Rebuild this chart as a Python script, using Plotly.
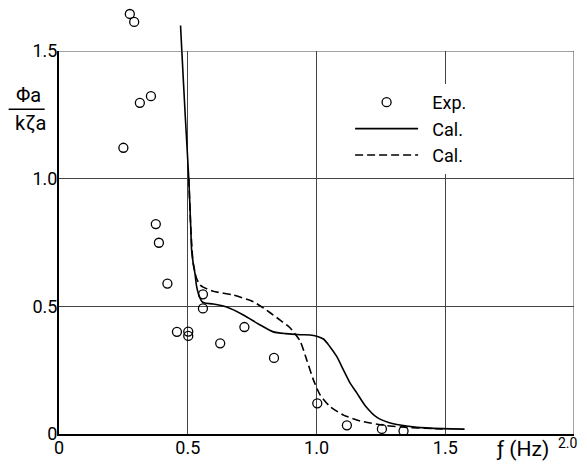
import plotly.graph_objects as go

# Experimental points
exp_f = [0.275, 0.292, 0.314, 0.357, 0.250, 0.376, 0.388, 0.421, 0.458, 0.502,
         0.502, 0.559, 0.559, 0.626, 0.720, 0.835, 1.003, 1.118, 1.254, 1.338]
exp_v = [1.645, 1.614, 1.297, 1.323, 1.121, 0.822, 0.749, 0.589, 0.400, 0.401,
         0.384, 0.547, 0.492, 0.355, 0.419, 0.298, 0.120, 0.034, 0.020, 0.012]

# Calculated (solid)
cal1_f = [0.472, 0.477, 0.490, 0.504, 0.512, 0.515, 0.521, 0.528, 0.534, 0.541,
          0.554, 0.565, 0.599, 0.651, 0.716, 0.781, 0.832, 0.880, 0.936, 0.975,
          1.001, 1.027, 1.050, 1.079, 1.105, 1.130, 1.157, 1.190, 1.235, 1.280,
          1.312, 1.390, 1.490, 1.575]
cal1_v = [1.600, 1.500, 1.250, 1.000, 0.800, 0.721, 0.670, 0.629, 0.580, 0.551,
          0.520, 0.513, 0.509, 0.497, 0.466, 0.427, 0.400, 0.393, 0.389, 0.388,
          0.383, 0.372, 0.345, 0.303, 0.250, 0.200, 0.160, 0.110, 0.065, 0.045,
          0.037, 0.026, 0.021, 0.019]

# Calculated (dashed)
cal2_f = [0.504, 0.512, 0.516, 0.521, 0.534, 0.547, 0.560, 0.599, 0.677, 0.755,
          0.820, 0.860, 0.897, 0.936, 0.962, 0.988, 1.014, 1.053, 1.105, 1.170,
          1.261, 1.351, 1.455, 1.490]
cal2_v = [1.000, 0.800, 0.733, 0.669, 0.610, 0.585, 0.575, 0.559, 0.544, 0.518,
          0.475, 0.445, 0.416, 0.365, 0.290, 0.212, 0.153, 0.107, 0.074, 0.051,
          0.034, 0.026, 0.021, 0.020]

series_names = ["Exp.", "Cal.", "Cal."]

x_ticks = [0, 0.5, 1.0, 1.5, 2.0]
x_ticktext = ["0", "0.5", "1.0", "1.5", ""]
y_ticks = [0, 0.5, 1.0, 1.5]
y_ticktext = ["0", "0.5", "1.0", "1.5"]

X_MAX = 2.0
Y_MAX = 1.5

FONT = "Roboto, DejaVu Sans, sans-serif"

# The page body has an 8px default margin, so the figure is drawn 8px smaller
# and every layout position below is given in window pixels minus that offset.
OFF = 8
W, H = 587 - OFF, 464 - OFF
FRAME_L, FRAME_R, FRAME_T, FRAME_B = 59.3, 573.6, 51, 434   # window pixels
M_L = FRAME_L - OFF
M_R = W - (FRAME_R - OFF)
M_B = H - (FRAME_B - OFF)
M_T = 0
plot_w = W - M_L - M_R
plot_h = H - M_T - M_B
# Framed axes occupy the lower part of the plotting area; the data are drawn on
# twin hidden axes with the same scale that reach higher, so the points and
# curve above 1.5 stay visible as in the original.
D = (FRAME_B - FRAME_T) / plot_h
Y2_MAX = Y_MAX / D


def px_x(p):
    return (p - FRAME_L) / plot_w


def px_y(p):
    return (FRAME_B - p) / plot_h


LEG_PAD = "\u2002"  # small gap between legend symbol and text, as in the original

fig = go.Figure()
common = dict(xaxis="x2", yaxis="y2", cliponaxis=False)
fig.add_trace(go.Scatter(x=exp_f, y=exp_v, mode="markers", name=LEG_PAD + series_names[0],
                         marker=dict(symbol="circle-open", size=9, color="black",
                                     line=dict(width=1.3, color="black")),
                         **common))
fig.add_trace(go.Scatter(x=cal1_f, y=cal1_v, mode="lines", name=LEG_PAD + series_names[1],
                         line=dict(color="black", width=1.6, shape="spline", smoothing=0.6),
                         **common))
fig.add_trace(go.Scatter(x=cal2_f, y=cal2_v, mode="lines", name=LEG_PAD + series_names[2],
                         line=dict(color="black", width=1.6, dash="8px,4px",
                                   shape="spline", smoothing=0.6),
                         **common))

fig.update_layout(
    width=W, height=H,
    margin=dict(l=M_L, r=M_R, t=M_T, b=M_B, pad=0),
    paper_bgcolor="white", plot_bgcolor="rgba(0,0,0,0)",
    font=dict(family=FONT, size=18, color="black"),
    showlegend=True,
    legend=dict(x=px_x(350), y=px_y(84), xanchor="left", yanchor="top",
                bgcolor="white", borderwidth=0, itemwidth=63,
                font=dict(family=FONT, size=18, color="black"),
                tracegroupgap=0),
    xaxis=dict(domain=[0, 1], anchor="y", range=[0, X_MAX],
               tickvals=x_ticks, ticktext=x_ticktext,
               showgrid=True, gridcolor="#444", gridwidth=1,
               showline=True, linecolor="black", linewidth=2,
               zeroline=False, ticks="", automargin=False,
               ticklabelstandoff=-4, tickfont=dict(size=18)),
    yaxis=dict(domain=[0, D], anchor="x", range=[0, Y_MAX],
               tickvals=y_ticks, ticktext=y_ticktext,
               showgrid=True, gridcolor="#444", gridwidth=1,
               showline=True, linecolor="black", linewidth=2,
               zeroline=False, ticks="", automargin=False,
               ticklabelstandoff=-4, tickfont=dict(size=18)),
    xaxis2=dict(domain=[0, 1], anchor="y2", range=[0, X_MAX], visible=False,
                showgrid=False, zeroline=False, automargin=False),
    yaxis2=dict(domain=[0, 1], anchor="x2", range=[0, Y2_MAX], visible=False,
                showgrid=False, zeroline=False, automargin=False),
)

# top and right frame lines (thin, like the grid)
fig.add_shape(type="line", xref="x", yref="y", x0=0, x1=X_MAX, y0=Y_MAX, y1=Y_MAX,
              line=dict(color="#444", width=1))
fig.add_shape(type="line", xref="x", yref="y", x0=X_MAX, x1=X_MAX, y0=0, y1=Y_MAX,
              line=dict(color="#444", width=1))

ann = dict(xref="paper", yref="paper", showarrow=False,
           xanchor="center", yanchor="middle")
# y-axis title as a fraction
fig.add_annotation(text="Φa", x=px_x(28.5), y=px_y(95), font=dict(size=20), **ann)
fig.add_annotation(text="kζa", x=px_x(31), y=px_y(123), font=dict(size=20), **ann)
fig.add_shape(type="line", xref="paper", yref="paper", x0=px_x(9), x1=px_x(45),
              y0=px_y(109.3), y1=px_y(109.3), line=dict(color="black", width=1.5))
# x-axis title and end label
fig.add_annotation(text="ƒ (Hz)", x=px_x(522.5), y=px_y(449), font=dict(size=21), **ann)
fig.add_annotation(text="2.0", x=px_x(568), y=px_y(443), font=dict(size=14), **ann)

fig.write_html("out.html")
